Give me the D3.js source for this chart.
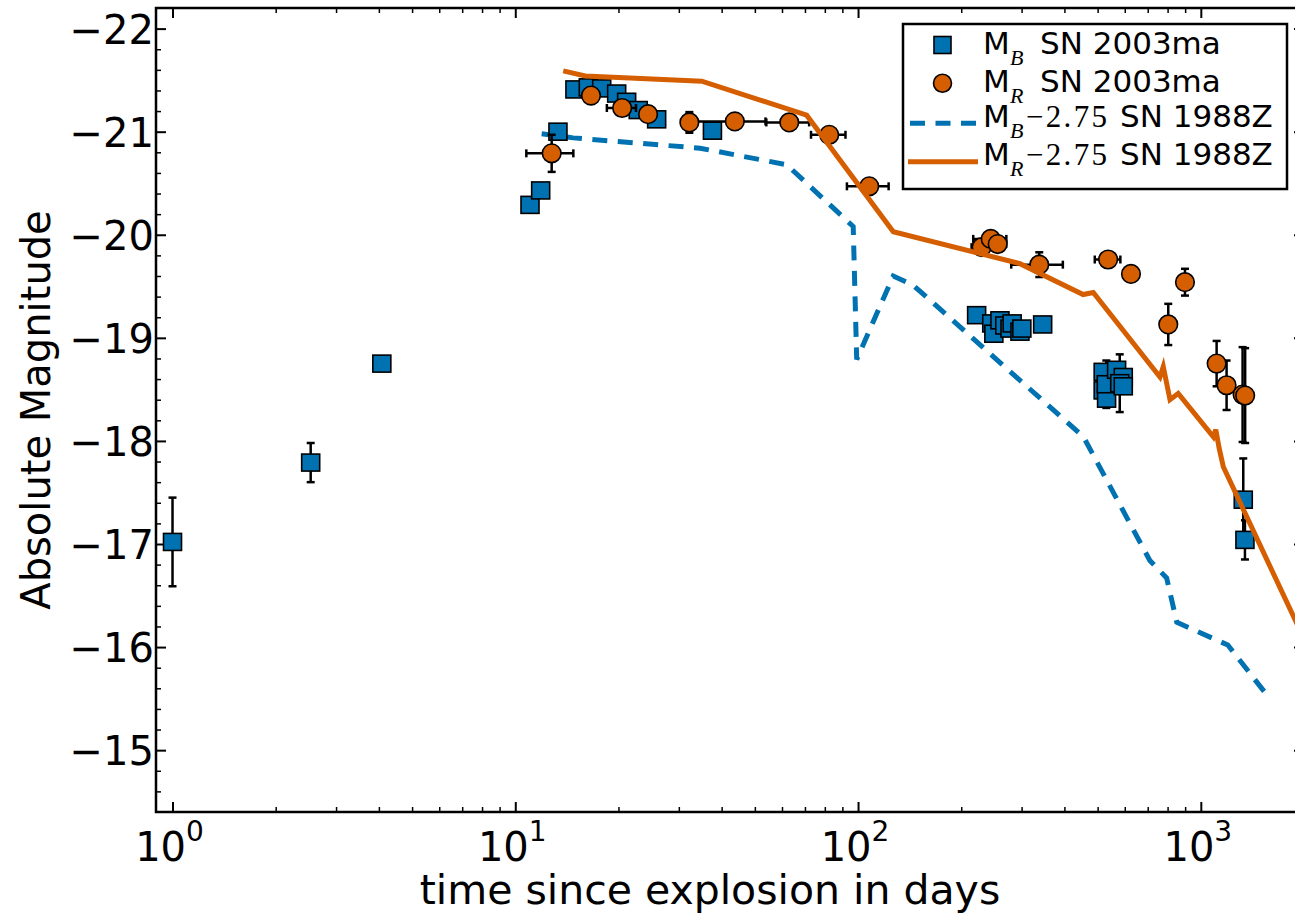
<!DOCTYPE html>
<html>
<head>
<meta charset="utf-8">
<script src="https://cdn.jsdelivr.net/npm/d3@7"></script>
<style>
  body { margin: 0; background: #fff; }
  svg { display: block; }
</style>
</head>
<body>
<div id="chart"></div>
<script>

// M_B of SN 2003ma (squares)
const bTime = [1.0, 2.53, 4.08, 11.04, 11.86, 13.32, 14.93, 16.33, 17.87, 19.76, 21.13, 22.84, 25.85, 37.6,
  221.8, 245.5, 249, 259.4, 268, 277.5, 281.6, 296.7, 300.5, 345.6,
  519, 519, 531, 530, 568, 594, 580, 594, 1330, 1345];
const bMag = [-17.02, -17.79, -18.75, -20.29, -20.43, -21.0, -21.41, -21.43, -21.42, -21.37, -21.29, -21.21, -21.12, -21.01,
  -19.22, -19.14, -19.04, -19.17, -19.12, -19.09, -19.14, -19.06, -19.09, -19.13,
  -18.67, -18.49, -18.41, -18.55, -18.69, -18.62, -18.56, -18.53, -17.43, -17.04];
const bErr = [0.43, 0.19, 0.05, 0.04, 0.04, 0.03, 0.03, 0.03, 0.03, 0.03, 0.03, 0.03, 0.03, 0.03,
  0.04, 0.04, 0.04, 0.04, 0.04, 0.04, 0.04, 0.04, 0.04, 0.04,
  0.05, 0.05, 0.05, 0.23, 0.05, 0.05, 0.28, 0.05, 0.4, 0.19];

// M_R of SN 2003ma (circles)
const rTime = [12.77, 16.63, 20.5, 24.4, 32.2, 43.7, 63, 82.4, 107.8, 229.4, 243.8, 255.5, 337.8, 536.5, 625.5,
  803.6, 899, 1112, 1189, 1324, 1347];
const rMag = [-20.79, -21.35, -21.23, -21.17, -21.09, -21.10, -21.09, -20.97, -20.47, -19.88, -19.96, -19.91, -19.71,
  -19.76, -19.62, -19.13, -19.54, -18.75, -18.54, -18.45, -18.44];
const rErr = [0.18, 0.08, 0.05, 0.05, 0.1, 0.05, 0.05, 0.05, 0.05, 0.05, 0.06, 0.05, 0.12, 0.04, 0.05,
  0.2, 0.13, 0.22, 0.24, 0.46, 0.46];
const rTimeErr = [2.0, 0, 2.0, 0, 0, 10, 9, 9.5, 15, 15, 27, 15, 58, 46, 0, 0, 0, 0, 0, 0, 0];

// SN 1988Z templates shifted by -2.75
const bModelTime = [11.94, 14.76, 34.6, 61.9, 96.8, 99.1, 126.7, 144.9, 454.5, 710, 795, 851, 1199, 1580];
const bModelMag = [-20.98, -20.94, -20.84, -20.68, -20.08, -18.79, -19.60, -19.51, -18.04, -16.84, -16.67, -16.24, -16.02, -15.51];
const rModelTime = [13.8, 16.0, 35.0, 70.8, 126.7, 296.7, 453.6, 485.6, 760, 777, 813, 859, 1088, 1106, 1131, 1163, 2000];
const rModelMag = [-21.59, -21.54, -21.49, -21.16, -20.03, -19.72, -19.42, -19.44, -18.62, -18.72, -18.40, -18.46,
  -18.04, -18.11, -17.93, -17.75, -16.08];

// axis ticks
const xMajor = [1, 10, 100, 1000];
const xExponents = ["0", "1", "2", "3"];
const yMajor = [-22, -21, -20, -19, -18, -17, -16, -15];

// legend
const legendSub = ["B", "R", "B", "R"];
const legendShift = ["", "", "\u22122.75", "\u22122.75"];
const legendName = ["SN 2003ma", "SN 2003ma", "SN 1988Z", "SN 1988Z"];

const blue = "#0072B2";
const orange = "#D55E00";
const font = "DejaVu Sans, sans-serif";

/*
  CANVAS
*/
const width = 1295, height = 913;
const plot = { left: 156, top: 8, right: 1304, bottom: 812 };

const svg = d3.select("#chart")
  .append("svg")
  .attr("width", width)
  .attr("height", height);

/*
  SCALES
*/
const x = d3.scaleLog()
  .domain([0.895, 2000])
  .range([plot.left, plot.right]);

const y = d3.scaleLinear()
  .domain([-22.2, -14.4])
  .range([plot.top, plot.bottom]);

svg.append("clipPath")
  .attr("id", "clip")
  .append("rect")
  .attr("x", plot.left)
  .attr("y", plot.top)
  .attr("width", plot.right - plot.left)
  .attr("height", plot.bottom - plot.top);

/*
  AXES (ticks point inward)
*/
const xMinor = [];
for (let k = 0; k < 4; k++) {
  for (let m = 2; m <= 9; m++) {
    const v = m * Math.pow(10, k);
    if (v > x.domain()[0] && v < x.domain()[1]) xMinor.push(v);
  }
}
const yMinor = [];
for (let i = -110; i <= -73; i++) {
  if (i % 5 !== 0) yMinor.push(i / 5);
}

function styleTicks(g, w) {
  g.select(".domain").remove();
  g.selectAll(".tick line").attr("stroke", "#000").attr("stroke-width", w);
}

svg.append("g")
  .attr("transform", `translate(0,${plot.bottom})`)
  .call(d3.axisBottom(x).tickValues(xMajor).tickSize(-10).tickFormat(""))
  .call(g => styleTicks(g, 2));
svg.append("g")
  .attr("transform", `translate(0,${plot.bottom})`)
  .call(d3.axisBottom(x).tickValues(xMinor).tickSize(-5).tickFormat(""))
  .call(g => styleTicks(g, 1.5));
svg.append("g")
  .attr("transform", `translate(0,${plot.top})`)
  .call(d3.axisTop(x).tickValues(xMajor).tickSize(-10).tickFormat(""))
  .call(g => styleTicks(g, 2));
svg.append("g")
  .attr("transform", `translate(0,${plot.top})`)
  .call(d3.axisTop(x).tickValues(xMinor).tickSize(-5).tickFormat(""))
  .call(g => styleTicks(g, 1.5));

const yAxis = svg.append("g")
  .attr("transform", `translate(${plot.left},0)`)
  .call(d3.axisLeft(y).tickValues(yMajor).tickSize(-10).tickPadding(2).tickFormat(d3.format("d")))
  .call(g => styleTicks(g, 2));
yAxis.selectAll(".tick text")
  .attr("fill", "#000")
  .attr("font-family", font)
  .attr("font-size", 40)
  .attr("dy", "0.36em");
svg.append("g")
  .attr("transform", `translate(${plot.left},0)`)
  .call(d3.axisLeft(y).tickValues(yMinor).tickSize(-5).tickFormat(""))
  .call(g => styleTicks(g, 1.5));
svg.append("g")
  .attr("transform", `translate(${plot.right},0)`)
  .call(d3.axisRight(y).tickValues(yMajor).tickSize(-10).tickFormat(""))
  .call(g => styleTicks(g, 2));

// x tick labels as 10^k
const xLabels = svg.append("g")
  .selectAll("text")
  .data(xMajor)
  .join("text")
  .attr("x", d => x(d) - 3)
  .attr("y", plot.bottom + 49)
  .attr("text-anchor", "middle")
  .attr("font-family", font)
  .attr("font-size", 40)
  .attr("fill", "#000");
xLabels.append("tspan").text("10");
xLabels.append("tspan")
  .attr("dy", -20)
  .attr("font-size", 28)
  .text((d, i) => xExponents[i]);

// frame
svg.append("rect")
  .attr("x", plot.left)
  .attr("y", plot.top)
  .attr("width", plot.right - plot.left)
  .attr("height", plot.bottom - plot.top)
  .attr("fill", "none")
  .attr("stroke", "#000")
  .attr("stroke-width", 2.5);

/*
  MARKS
*/
const marks = svg.append("g").attr("clip-path", "url(#clip)");

const line = d3.line()
  .x(d => x(d[0]))
  .y(d => y(d[1]));

marks.append("path")
  .datum(d3.zip(bModelTime, bModelMag))
  .attr("d", line)
  .attr("fill", "none")
  .attr("stroke", blue)
  .attr("stroke-width", 5)
  .attr("stroke-dasharray", "15,10.5")
  .attr("stroke-linejoin", "miter");

function errorBars(g, pts) {
  const cap = 4;
  const v = pts.filter(d => d.em > 0);
  g.selectAll(null).data(v).join("line")
    .attr("x1", d => x(d.t)).attr("x2", d => x(d.t))
    .attr("y1", d => y(d.m - d.em)).attr("y2", d => y(d.m + d.em));
  g.selectAll(null).data(v.flatMap(d => [[d.t, d.m - d.em], [d.t, d.m + d.em]])).join("line")
    .attr("x1", d => x(d[0]) - cap).attr("x2", d => x(d[0]) + cap)
    .attr("y1", d => y(d[1])).attr("y2", d => y(d[1]));
  const h = pts.filter(d => d.et > 0);
  g.selectAll(null).data(h).join("line")
    .attr("x1", d => x(d.t - d.et)).attr("x2", d => x(d.t + d.et))
    .attr("y1", d => y(d.m)).attr("y2", d => y(d.m));
  g.selectAll(null).data(h.flatMap(d => [[d.t - d.et, d.m], [d.t + d.et, d.m]])).join("line")
    .attr("x1", d => x(d[0])).attr("x2", d => x(d[0]))
    .attr("y1", d => y(d[1]) - cap).attr("y2", d => y(d[1]) + cap);
  g.attr("stroke", "#000").attr("stroke-width", 2.5);
}

const bPts = bTime.map((t, i) => ({ t: t, m: bMag[i], em: bErr[i], et: 0 }));
const rPts = rTime.map((t, i) => ({ t: t, m: rMag[i], em: rErr[i], et: rTimeErr[i] }));

errorBars(marks.append("g"), bPts);

marks.append("g")
  .selectAll("rect")
  .data(bPts)
  .join("rect")
  .attr("x", d => x(d.t) - 9)
  .attr("y", d => y(d.m) - 8.5)
  .attr("width", 18)
  .attr("height", 17)
  .attr("fill", blue)
  .attr("stroke", "#000")
  .attr("stroke-width", 1.6);

errorBars(marks.append("g"), rPts);

marks.append("g")
  .selectAll("circle")
  .data(rPts)
  .join("circle")
  .attr("cx", d => x(d.t))
  .attr("cy", d => y(d.m))
  .attr("r", 9.3)
  .attr("fill", orange)
  .attr("stroke", "#000")
  .attr("stroke-width", 1.6);

marks.append("path")
  .datum(d3.zip(rModelTime, rModelMag))
  .attr("d", line)
  .attr("fill", "none")
  .attr("stroke", orange)
  .attr("stroke-width", 5)
  .attr("stroke-linejoin", "miter");

/*
  AXIS LABELS
*/
svg.append("text")
  .attr("x", 710)
  .attr("y", 904)
  .attr("text-anchor", "middle")
  .attr("font-family", font)
  .attr("font-size", 41)
  .attr("fill", "#000")
  .text("time since explosion in days");

svg.append("text")
  .attr("x", -(plot.top + plot.bottom) / 2)
  .attr("y", 50)
  .attr("transform", "rotate(-90)")
  .attr("text-anchor", "middle")
  .attr("font-family", font)
  .attr("font-size", 40)
  .attr("fill", "#000")
  .text("Absolute Magnitude");

/*
  LEGEND
*/
const legend = svg.append("g");
legend.append("rect")
  .attr("x", 903)
  .attr("y", 24)
  .attr("width", 384)
  .attr("height", 165)
  .attr("fill", "#fff")
  .attr("stroke", "#000")
  .attr("stroke-width", 2.5);

const rowBase = [53.5, 91.5, 127, 165];

legend.append("rect")
  .attr("x", 934).attr("y", 36.5).attr("width", 17).attr("height", 17)
  .attr("fill", blue).attr("stroke", "#000").attr("stroke-width", 1.6);
legend.append("circle")
  .attr("cx", 942.5).attr("cy", 83.3).attr("r", 9)
  .attr("fill", orange).attr("stroke", "#000").attr("stroke-width", 1.6);
legend.append("line")
  .attr("x1", 910).attr("x2", 977).attr("y1", 123.3).attr("y2", 123.3)
  .attr("stroke", blue).attr("stroke-width", 5).attr("stroke-dasharray", "15,10.5");
legend.append("line")
  .attr("x1", 908).attr("x2", 978).attr("y1", 161.7).attr("y2", 161.7)
  .attr("stroke", orange).attr("stroke-width", 5);

legendName.forEach((name, i) => {
  const base = rowBase[i];
  legend.append("text")
    .attr("x", 983).attr("y", base)
    .attr("font-family", font).attr("font-size", 31)
    .text("M");
  legend.append("text")
    .attr("x", 1010).attr("y", base + 11)
    .attr("font-family", "Liberation Serif, serif").attr("font-style", "italic").attr("font-size", 22)
    .text(legendSub[i]);
  if (legendShift[i]) {
    legend.append("text")
      .attr("x", 1026).attr("y", base)
      .attr("font-family", "Liberation Serif, serif").attr("font-size", 31)
      .attr("textLength", 81).attr("lengthAdjust", "spacing")
      .text(legendShift[i]);
  }
  legend.append("text")
    .attr("x", legendShift[i] ? 1120 : 1040).attr("y", base)
    .attr("font-family", font).attr("font-size", 31)
    .text(name);
});

</script>
</body>
</html>
